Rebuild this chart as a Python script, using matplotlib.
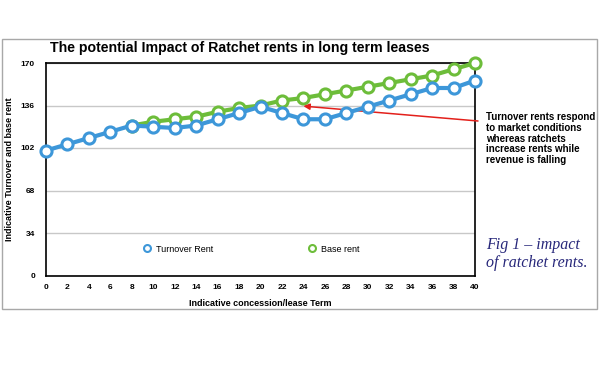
import matplotlib
matplotlib.use("Agg")
import matplotlib.pyplot as plt
from matplotlib.lines import Line2D
from matplotlib.patches import Rectangle

# values
term = list(range(0, 42, 2))
turnover_rent = [100, 105, 110, 115, 120, 119, 118, 120, 125, 130, 135,
                 130, 125, 125, 130, 135, 140, 145, 150, 150, 156]
base_term = list(range(8, 42, 2))
base_rent = [120, 123, 125, 127, 131, 134, 136, 140, 142, 145, 148,
             151, 154, 157, 160, 165, 170]
y_ticks = [0, 34, 68, 102, 136, 170]

blue = "#3d97d9"
green = "#6dbd3a"

plt.rcParams["font.family"] = ["Liberation Sans", "DejaVu Sans"]

fig = plt.figure(figsize=(6, 3.7), dpi=100)
fig.patch.set_facecolor("white")

# grey outer frame
fig.patches.append(Rectangle((2 / 600, 61 / 370), 595 / 600, 270 / 370,
                             transform=fig.transFigure, fill=False,
                             edgecolor="#a8a8a8", lw=1.0))

ax = fig.add_axes([46 / 600, 94.5 / 370, 429 / 600, 212.5 / 370])

ax.plot(base_term, base_rent, color=green, lw=3, marker="o", ms=8,
        mfc="white", mec=green, mew=2.2, zorder=3, clip_on=False)
ax.plot(term, turnover_rent, color=blue, lw=3, marker="o", ms=8,
        mfc="white", mec=blue, mew=2.2, zorder=4, clip_on=False)

ax.set_xlim(0, 40)
ax.set_ylim(0, 170)
ax.set_xticks(term)
ax.set_yticks(y_ticks)
ax.tick_params(length=0, labelsize=6, pad=6)
ax.tick_params(axis="y", pad=8)
for lab in ax.get_xticklabels() + ax.get_yticklabels():
    lab.set_fontweight("bold")
ax.grid(axis="y", color="#c8c8c8", lw=1)
ax.set_axisbelow(True)
for s in ax.spines.values():
    s.set_linewidth(1.2)
    s.set_color("black")

ax.set_xlabel("Indicative concession/lease Term", fontsize=6.5,
              fontweight="bold", labelpad=6)
ax.set_ylabel("Indicative Turnover and base rent", fontsize=6.5,
              fontweight="bold")
ax.yaxis.set_label_coords(-0.074, 0.5)

fig.text(50 / 600, 1 - 48 / 370,
         "The potential Impact of Ratchet rents in long term leases",
         fontsize=10.2, fontweight="bold", va="center", ha="left")

handles = [Line2D([], [], ls="none", marker="o", ms=5, mfc="white",
                  mec=blue, mew=1.5),
           Line2D([], [], ls="none", marker="o", ms=5, mfc="white",
                  mec=green, mew=1.5)]
ax.legend(handles, ["Turnover Rent", "Base rent"], ncol=2, frameon=False,
          loc="center", bbox_to_anchor=(0.477, 0.124), fontsize=6.5,
          columnspacing=10.3, handletextpad=0.4, handlelength=1.2)

ax.annotate("", xy=(24, 135.5), xycoords="data",
            xytext=(478 / 600, 1 - 121 / 370), textcoords="figure fraction",
            arrowprops=dict(arrowstyle="-|>", color="#e3201b", lw=1.1,
                            mutation_scale=9, shrinkA=0, shrinkB=0),
            annotation_clip=False)

fig.text(486 / 600, 1 - 112 / 370,
         "Turnover rents respond\nto market conditions\nwhereas ratchets\n"
         "increase rents while\nrevenue is falling",
         fontsize=7, fontweight="bold", va="top", ha="left", linespacing=1.1)

fig.text(486 / 600, 1 - 254 / 370, "Fig 1 \u2013 impact\nof ratchet rents.",
         family=["Liberation Serif", "DejaVu Serif"], style="italic",
         fontsize=11.5, color="#27277a", va="center", ha="left",
         linespacing=1.15)

fig.savefig("out.png", dpi=100, facecolor="white")
